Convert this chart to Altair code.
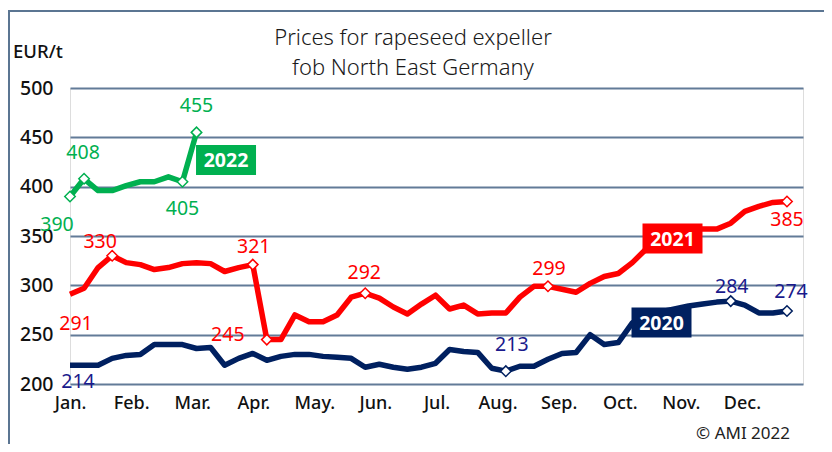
import altair as alt
import pandas as pd

# ---------------- data ----------------
series_names = ["2020", "2021", "2022"]

prices_2020 = [219, 219, 219, 226, 229, 230, 240, 240, 240, 236, 237, 219, 226,
               231, 224, 228, 230, 230, 228, 227, 226, 217, 220, 217, 215, 217,
               221, 235, 233, 232, 216, 213, 218, 218, 225, 231, 232, 250, 240,
               242, 262, 268, 273, 276, 279, 281, 283, 284, 280, 272, 272, 274]
prices_2021 = [291, 297, 318, 330, 323, 321, 316, 318, 322, 323, 322, 314, 318,
               321, 245, 245, 270, 263, 263, 270, 288, 292, 287, 278, 271, 281,
               290, 276, 280, 271, 272, 272, 288, 299, 299, 296, 293, 302, 309,
               312, 323, 337, 348, 355, 357, 357, 357, 363, 375, 380, 384, 385]
prices_2022 = [390, 408, 396, 396, 401, 405, 405, 410, 405, 455]

month_labels = ["Jan.", "Feb.", "Mar.", "Apr.", "May.", "Jun.",
                "Jul.", "Aug.", "Sep.", "Oct.", "Nov.", "Dec."]
y_ticks = [200, 250, 300, 350, 400, 450, 500]

# labelled points
label_series = ["2022", "2022", "2022", "2022",
                "2021", "2021", "2021", "2021", "2021", "2021", "2021",
                "2020", "2020", "2020", "2020"]
label_week = [0, 1, 8, 9,
              0, 3, 13, 14, 21, 34, 51,
              0, 31, 47, 51]
label_text = ["390", "408", "405", "455",
              "291", "330", "321", "245", "292", "299", "385",
              "214", "213", "284", "274"]
label_diamond = [True, True, True, True,
                 False, True, True, True, True, True, True,
                 False, True, True, True]

# series name boxes anchored at a week of each series
box_series = ["2022", "2021", "2020"]
box_week = [9, 43, 43]

# ---------------- styles ----------------
line_colors = ["#002060", "#ff0000", "#00b050"]
text_colors = {"2020": "#1a1a8c", "2021": "#ff0000", "2022": "#00b050"}
fill_colors = {"2020": "#002060", "2021": "#ff0000", "2022": "#00b050"}
label_offsets = [(-13, 28), (-1, -26), (0, 27), (0, -26),
                 (6, 30), (-12, -14), (1, -18), (-39, -5), (-1, -20), (1, -17), (0, 19),
                 (8, 17), (6, -26), (1, -14), (4, -19)]
box_offsets = [(29.5, 27.6), (-2, 7.5), (-13, 13.5)]
FONT = "Noto Sans"
GRID = "#627b98"

W, H = 733, 296
X_MAX = 52.14

# ---------------- tables ----------------
rows = []
for name, vals in zip(series_names, [prices_2020, prices_2021, prices_2022]):
    for i, v in enumerate(vals):
        rows.append({"series": name, "week": i, "price": v})
df = pd.DataFrame(rows)
lookup = {(r.series, r.week): r.price for r in df.itertuples()}

x_enc = alt.X(
    "week:Q",
    scale=alt.Scale(domain=[0, X_MAX], nice=False, zero=False),
    axis=alt.Axis(
        values=[i * X_MAX / 12 for i in range(12)],
        labelExpr="[" + ",".join("'%s'" % m for m in month_labels) + "][round(datum.value*12/%s)]" % X_MAX,
        grid=False, domain=False, ticks=False, title=None,
        labelFont=FONT, labelFontSize=18, labelColor="#111111",
        labelPadding=10, labelFontWeight=500,
        labelFlush=False, labelOverlap=False, labelAlign="center",
    ),
)
y_enc = alt.Y(
    "price:Q",
    scale=alt.Scale(domain=[200, 500], nice=False, zero=False),
    axis=alt.Axis(
        values=y_ticks, grid=True, gridColor=GRID, gridWidth=2,
        domain=False, ticks=False, title=None,
        labelFont=FONT, labelFontSize=19.5, labelColor="#111111",
        labelPadding=17, labelFontWeight=500,
    ),
)
color_enc = alt.Color("series:N",
                      scale=alt.Scale(domain=series_names, range=line_colors),
                      legend=None)

layers = []

# border frame
layers.append(
    alt.Chart(pd.DataFrame({"a": [0]})).mark_rect(
        fill=None, stroke="#5b7592", strokeWidth=2
    ).encode(x=alt.value(-61), x2=alt.value(800), y=alt.value(-77), y2=alt.value(450))
)

# lines
layers.append(
    alt.Chart(df).mark_line(strokeWidth=5.5, strokeJoin="round").encode(
        x=x_enc, y=y_enc, color=color_enc, detail="series:N"
    )
)

# diamonds and labels
for s, w, t, d, (dx, dy) in zip(label_series, label_week, label_text,
                                 label_diamond, label_offsets):
    pdf = pd.DataFrame({"series": [s], "week": [w], "price": [lookup[(s, w)]], "label": [t]})
    if d:
        layers.append(
            alt.Chart(pdf).mark_point(shape="diamond", filled=True, fill="white",
                                      stroke=fill_colors[s], strokeWidth=1.5,
                                      size=110, opacity=1).encode(x=x_enc, y=y_enc)
        )
    layers.append(
        alt.Chart(pdf).mark_text(font=FONT, fontSize=19.5, color=text_colors[s],
                                 dx=dx, dy=dy, align="center", baseline="middle").encode(
            x=x_enc, y=y_enc, text="label:N"
        )
    )

# name boxes
box_path = "M-1,-0.5L1,-0.5L1,0.5L-1,0.5Z"
for s, w, (ox, oy) in zip(box_series, box_week, box_offsets):
    bdf = pd.DataFrame({"series": [s], "week": [w], "price": [lookup[(s, w)]], "label": [s]})
    layers.append(
        alt.Chart(bdf).mark_point(shape=box_path, filled=True, fill=fill_colors[s],
                                  strokeWidth=0, size=3600, opacity=1,
                                  xOffset=ox, yOffset=oy).encode(x=x_enc, y=y_enc)
    )
    layers.append(
        alt.Chart(bdf).mark_text(font=FONT, fontSize=19.5, fontWeight="bold", color="white",
                                 dx=ox, dy=oy + 1, align="center", baseline="middle").encode(
            x=x_enc, y=y_enc, text="label:N"
        )
    )

# texts: title, unit, copyright
title_lines = ["Prices for rapeseed expeller", "fob North East Germany"]
for i, line in enumerate(title_lines):
    layers.append(
        alt.Chart(pd.DataFrame({"t": [line]})).mark_text(
            font=FONT, fontSize=22, fontWeight=300, color="#1a1a1a",
            align="center", baseline="middle"
        ).encode(x=alt.value(343), y=alt.value(-50 + 30 * i), text="t:N")
    )
layers.append(
    alt.Chart(pd.DataFrame({"t": ["EUR/t"]})).mark_text(
        font=FONT, fontSize=18.5, fontWeight=500, color="#111111", align="left", baseline="middle"
    ).encode(x=alt.value(-57), y=alt.value(-36), text="t:N")
)
layers.append(
    alt.Chart(pd.DataFrame({"t": ["© AMI 2022"]})).mark_text(
        font=FONT, fontSize=17, color="#222222", align="right", baseline="middle"
    ).encode(x=alt.value(720), y=alt.value(346), text="t:N")
)

chart = alt.layer(*layers).properties(
    width=W, height=H,
    autosize=alt.AutoSizeParams(type="none"),
    padding={"left": 62, "top": 80, "right": 21, "bottom": 60},
).configure_view(stroke=None).configure(background="white")

chart.save("out.html", embed_options={"renderer": "svg", "actions": False})
